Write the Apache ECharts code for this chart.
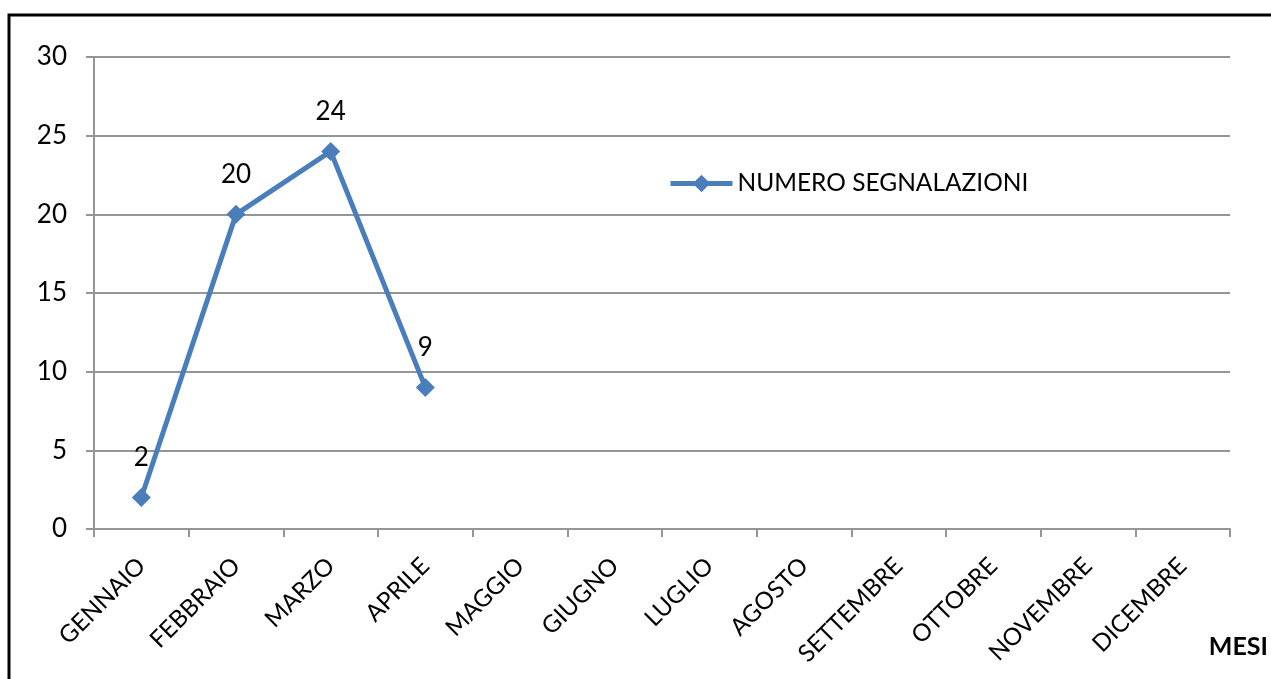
<!DOCTYPE html>
<html><head><meta charset="utf-8">
<script src="https://cdn.jsdelivr.net/npm/echarts@6/dist/echarts.min.js"></script>
<style>html,body{margin:0;padding:0;background:#fff}#c{width:1271px;height:679px}</style>
</head><body><div id="c"></div>
<script>
const categories = ['GENNAIO','FEBBRAIO','MARZO','APRILE','MAGGIO','GIUGNO','LUGLIO','AGOSTO','SETTEMBRE','OTTOBRE','NOVEMBRE','DICEMBRE'];
const seriesName = 'NUMERO SEGNALAZIONI';
const values = [2, 20, 24, 9, null, null, null, null, null, null, null, null];
const yTicks = [0, 5, 10, 15, 20, 25, 30];
const axisTitle = 'MESI';

const FONT = 'Lato, "Open Sans", sans-serif';
const chart = echarts.init(document.getElementById('c'), null, {renderer: 'canvas'});
chart.setOption({
  animation: false,
  backgroundColor: '#fff',
  grid: {left: 94, right: 41, top: 57, bottom: 150, containLabel: false},
  legend: {
    data: [seriesName], left: 663, top: 166, itemWidth: 62, itemHeight: 22, itemGap: 5,
    lineStyle: {width: 5},
    textStyle: {fontFamily: FONT, fontSize: 24.5, color: '#000'}
  },
  xAxis: {
    type: 'category', data: categories, boundaryGap: true,
    axisLine: {lineStyle: {color: '#959595', width: 2}},
    axisTick: {show: true, length: 8, lineStyle: {color: '#959595', width: 2}, alignWithLabel: false},
    axisLabel: {rotate: 45, margin: 33, interval: 0, fontFamily: FONT, fontSize: 24, color: '#000'}
  },
  yAxis: {
    type: 'value', min: yTicks[0], max: yTicks[yTicks.length - 1], interval: 5,
    axisLine: {show: true, lineStyle: {color: '#959595', width: 2}},
    axisTick: {show: true, length: 8, lineStyle: {color: '#959595', width: 2}},
    splitLine: {lineStyle: {color: '#959595', width: 2}},
    axisLabel: {margin: 27, fontFamily: FONT, fontSize: 26, color: '#000'}
  },
  series: [{
    name: seriesName, type: 'line', data: values, connectNulls: false,
    symbol: 'diamond', symbolSize: 19,
    lineStyle: {color: '#4a7ebb', width: 5},
    itemStyle: {color: '#4a7ebb'},
    label: {show: true, position: 'top', distance: 17, fontFamily: FONT, fontSize: 26, color: '#000'}
  }],
  graphic: [
    {type: 'rect', shape: {x: 9, y: 15, width: 1300, height: 700}, style: {fill: 'none', stroke: '#000', lineWidth: 3}, silent: true, z: 100},
    {type: 'text', right: 3, top: 634, style: {text: axisTitle, font: 'bold 25px ' + FONT, fill: '#000'}}
  ]
});
</script></body></html>
